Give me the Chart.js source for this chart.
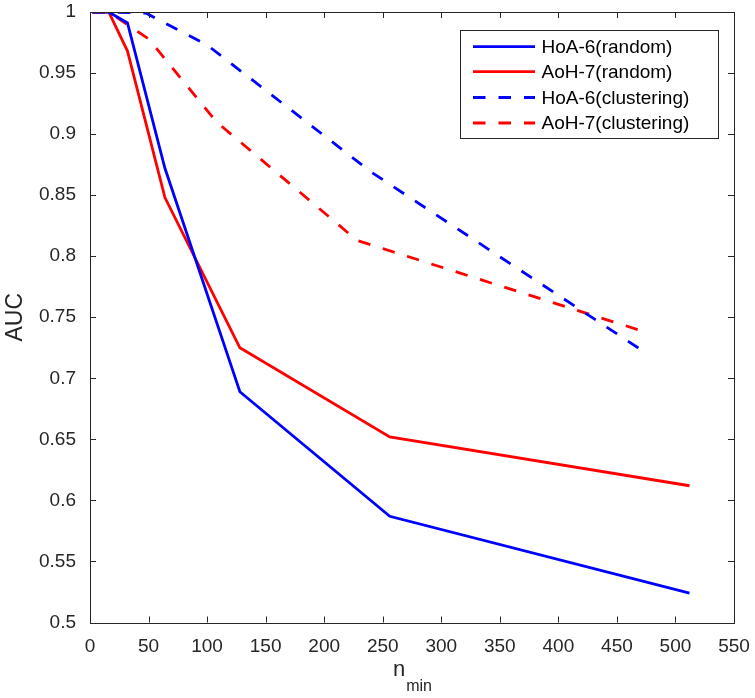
<!DOCTYPE html>
<html>
<head>
<meta charset="utf-8">
<script src="https://cdn.jsdelivr.net/npm/chart.js@4/dist/chart.umd.min.js"></script>
<style>
html,body{margin:0;padding:0;background:#fff;}
#wrap{width:755px;height:698px;}
</style>
</head>
<body>
<div id="wrap"><canvas id="c" width="755" height="698"></canvas></div>
<script>
// ---- data ----
const xRandom = [2, 4, 8, 16, 32, 64, 128, 256, 512];
const hoaRandom = [1, 1, 1, 1, 0.991, 0.872, 0.689, 0.587, 0.524];
const aohRandom = [1, 1, 1, 1, 0.968, 0.848, 0.725, 0.652, 0.612];
const xHoaClust = [2, 16, 48, 100, 240, 476];
const hoaClust = [1, 1, 0.999, 0.973, 0.869, 0.720];
const xAohClust = [2, 16, 50, 108, 228, 474];
const aohClust = [1, 1, 0.978, 0.910, 0.813, 0.738];
const seriesLabels = ['HoA-6(random)', 'AoH-7(random)', 'HoA-6(clustering)', 'AoH-7(clustering)'];
const xTitleMain = 'n';
const xTitleSub = 'min';
const yTitle = 'AUC';

const FONT = '"Liberation Sans", Arial, Helvetica, sans-serif';
const AX = '#262626';
const pts = (xs, ys) => xs.map((x, i) => ({x: x, y: ys[i]}));

const ds = (label, data, color, dashed) => ({
  label, data, borderColor: color, backgroundColor: color,
  borderWidth: 2.8, borderDash: dashed ? [12.5, 13] : [],
  pointRadius: 0, tension: 0, fill: false, borderCapStyle: 'butt', borderJoinStyle: 'miter'
});

const zeroPad = s => { s.paddingTop = 0; s.paddingBottom = 0; s.paddingLeft = 0; s.paddingRight = 0; };

const frame = {
  id: 'frame',
  afterDatasetsDraw(chart) {
    const {ctx, chartArea: a, scales: {x, y}} = chart;
    ctx.save();
    ctx.strokeStyle = AX;
    ctx.lineWidth = 1;
    ctx.strokeRect(Math.round(a.left) + 0.5, Math.round(a.top) + 0.5, Math.round(a.right - a.left), Math.round(a.bottom - a.top));
    const tl = 6;
    ctx.beginPath();
    x.ticks.forEach(t => {
      const px = Math.round(x.getPixelForValue(t.value)) + 0.5;
      ctx.moveTo(px, a.bottom); ctx.lineTo(px, a.bottom - tl);
      ctx.moveTo(px, a.top); ctx.lineTo(px, a.top + tl);
    });
    y.ticks.forEach(t => {
      const py = Math.round(y.getPixelForValue(t.value)) + 0.5;
      ctx.moveTo(a.left, py); ctx.lineTo(a.left + tl, py);
      ctx.moveTo(a.right, py); ctx.lineTo(a.right - tl, py);
    });
    ctx.stroke();

    // x title with subscript
    ctx.fillStyle = AX;
    ctx.textBaseline = 'alphabetic';
    ctx.font = '22px ' + FONT;
    const wMain = ctx.measureText(xTitleMain).width;
    ctx.font = '16px ' + FONT;
    const wSub = ctx.measureText(xTitleSub).width;
    const cx = (a.left + a.right) / 2;
    const sx = cx - (wMain + wSub) / 2;
    ctx.font = '22px ' + FONT;
    ctx.textAlign = 'left';
    ctx.fillText(xTitleMain, sx, 676);
    ctx.font = '16px ' + FONT;
    ctx.fillText(xTitleSub, sx + wMain + 1, 691);

    // legend
    const lx = 460.5, ly = 30.5, lw = 258, lh = 108;
    ctx.fillStyle = '#fff';
    ctx.fillRect(lx, ly, lw, lh);
    ctx.strokeStyle = AX;
    ctx.lineWidth = 1;
    ctx.strokeRect(lx, ly, lw, lh);
    const rows = [46.7, 71.7, 97.5, 123];
    chart.data.datasets.forEach((d, i) => {
      ctx.strokeStyle = d.borderColor;
      ctx.lineWidth = d.borderWidth;
      ctx.setLineDash(d.borderDash || []);
      ctx.beginPath();
      ctx.moveTo(473, rows[i]); ctx.lineTo(535, rows[i]);
      ctx.stroke();
      ctx.setLineDash([]);
      ctx.fillStyle = '#000';
      ctx.font = '19px ' + FONT;
      ctx.textBaseline = 'middle';
      ctx.fillText(d.label, 541.5, rows[i] + 1);
    });
    ctx.restore();
  }
};

new Chart(document.getElementById('c'), {
  type: 'line',
  data: {
    datasets: [
      ds(seriesLabels[0], pts(xRandom, hoaRandom), '#0000ff', false),
      ds(seriesLabels[1], pts(xRandom, aohRandom), '#ff0000', false),
      ds(seriesLabels[2], pts(xHoaClust, hoaClust), '#0000ff', true),
      ds(seriesLabels[3], pts(xAohClust, aohClust), '#ff0000', true)
    ]
  },
  options: {
    responsive: false,
    animation: false,
    layout: {padding: {top: 12, right: 21, left: 0, bottom: 0}},
    plugins: {legend: {display: false}, tooltip: {enabled: false}},
    scales: {
      x: {
        type: 'linear', min: 0, max: 550,
        ticks: {stepSize: 50, color: AX, font: {family: FONT, size: 19}, padding: 13, maxRotation: 0, autoSkip: false},
        grid: {display: false, drawTicks: false},
        border: {display: false},
        afterFit(s) { s.height = 75.5; zeroPad(s); }
      },
      y: {
        type: 'linear', min: 0.5, max: 1,
        ticks: {stepSize: 0.05, color: AX, font: {family: FONT, size: 19}, padding: 14,
          callback: v => String(Number(v.toFixed(2)))},
        grid: {display: false, drawTicks: false},
        border: {display: false},
        title: {display: true, text: yTitle, color: AX, font: {family: FONT, size: 23}, padding: {top: 2, bottom: 0}},
        afterFit(s) { s.width = 90; zeroPad(s); }
      }
    }
  },
  plugins: [frame]
});
</script>
</body>
</html>
